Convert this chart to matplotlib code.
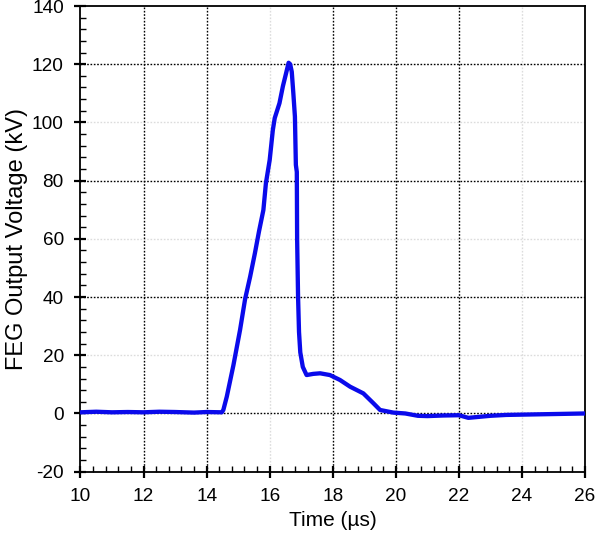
import matplotlib
matplotlib.use("Agg")
import matplotlib.pyplot as plt
from matplotlib.ticker import MultipleLocator

plt.rcParams['font.family'] = ['Liberation Sans', 'DejaVu Sans']
plt.rcParams['axes.unicode_minus'] = False

time_us = [10.0, 10.5, 11.0, 11.5, 12.0, 12.5, 13.0, 13.6, 14.0, 14.48, 14.53, 14.64,
           14.85, 15.06, 15.22, 15.38, 15.53, 15.66, 15.80, 15.88, 16.00, 16.10,
           16.16, 16.31, 16.42, 16.52, 16.60, 16.65, 16.70, 16.75, 16.80, 16.83,
           16.86, 16.87, 16.90, 16.93, 16.97, 17.05, 17.17, 17.38, 17.60, 17.91,
           18.23, 18.55, 18.97, 19.29, 19.50, 19.92, 20.30, 20.70, 21.00, 21.50,
           22.00, 22.30, 22.60, 23.00, 23.50, 24.00, 25.00, 26.00]
voltage_kv = [0.4, 0.6, 0.4, 0.5, 0.4, 0.6, 0.5, 0.3, 0.5, 0.4, 1.2, 5.8,
              16.6, 28.7, 39.3, 47.0, 55.0, 62.5, 69.9, 79.1, 87.1, 97.4,
              101.5, 106.6, 112.5, 116.9, 120.5, 120.0, 117.4, 110.0, 102.0, 85.4,
              83.0, 60.0, 40.0, 28.0, 21.0, 16.0, 13.2, 13.6, 13.8, 13.2,
              11.5, 9.2, 6.9, 3.5, 1.2, 0.3, 0.0, -0.8, -0.9, -0.7,
              -0.6, -1.5, -1.2, -0.8, -0.5, -0.4, -0.2, 0.0]

x_ticks = [10, 12, 14, 16, 18, 20, 22, 24, 26]
y_ticks = [-20, 0, 20, 40, 60, 80, 100, 120, 140]
dark_x_grid = [12, 14, 18, 20, 22]
light_x_grid = [16, 24]
dark_y_grid = [0, 40, 80, 120]
light_y_grid = [20, 60, 100]

fig = plt.figure(figsize=(5.98, 5.36), dpi=100)
ax = fig.add_axes([0.1346, 0.12, 0.8437, 0.8688])

for gx in light_x_grid:
    ax.axvline(gx, color='#dcdcdc', linestyle=(0, (1.2, 1.2)), linewidth=1.0, zorder=1)
for gy in light_y_grid:
    ax.axhline(gy, color='#dcdcdc', linestyle=(0, (1.2, 1.2)), linewidth=1.0, zorder=1)
for gx in dark_x_grid:
    ax.axvline(gx, color='black', linestyle=(0, (1.2, 1.2)), linewidth=1.0, zorder=1)
for gy in dark_y_grid:
    ax.axhline(gy, color='black', linestyle=(0, (1.2, 1.2)), linewidth=1.0, zorder=1)

ax.plot(time_us, voltage_kv, color='#0a0aeb', linewidth=3.1, solid_joinstyle='round', zorder=3)

ax.set_xlim(10, 26)
ax.set_ylim(-20, 140)
ax.set_xticks(x_ticks)
ax.set_yticks(y_ticks)
ax.xaxis.set_minor_locator(MultipleLocator(0.4))
ax.yaxis.set_minor_locator(MultipleLocator(4))

ax.tick_params(which='major', direction='inout', length=9, width=1.6, labelsize=13.7,
               top=False, right=False)
ax.tick_params(which='minor', direction='in', length=4, width=1.0, top=False, right=False)
ax.tick_params(axis='x', which='major', pad=7)
ax.tick_params(axis='y', which='major', pad=7.5)

for s in ax.spines.values():
    s.set_linewidth(1.3)

ax.set_xlabel('Time (µs)', fontsize=15, labelpad=4.5)
ax.set_ylabel('FEG Output Voltage (kV)', fontsize=17)
ax.yaxis.set_label_coords(-0.105, 0.5)

fig.savefig('out.png', dpi=100)
